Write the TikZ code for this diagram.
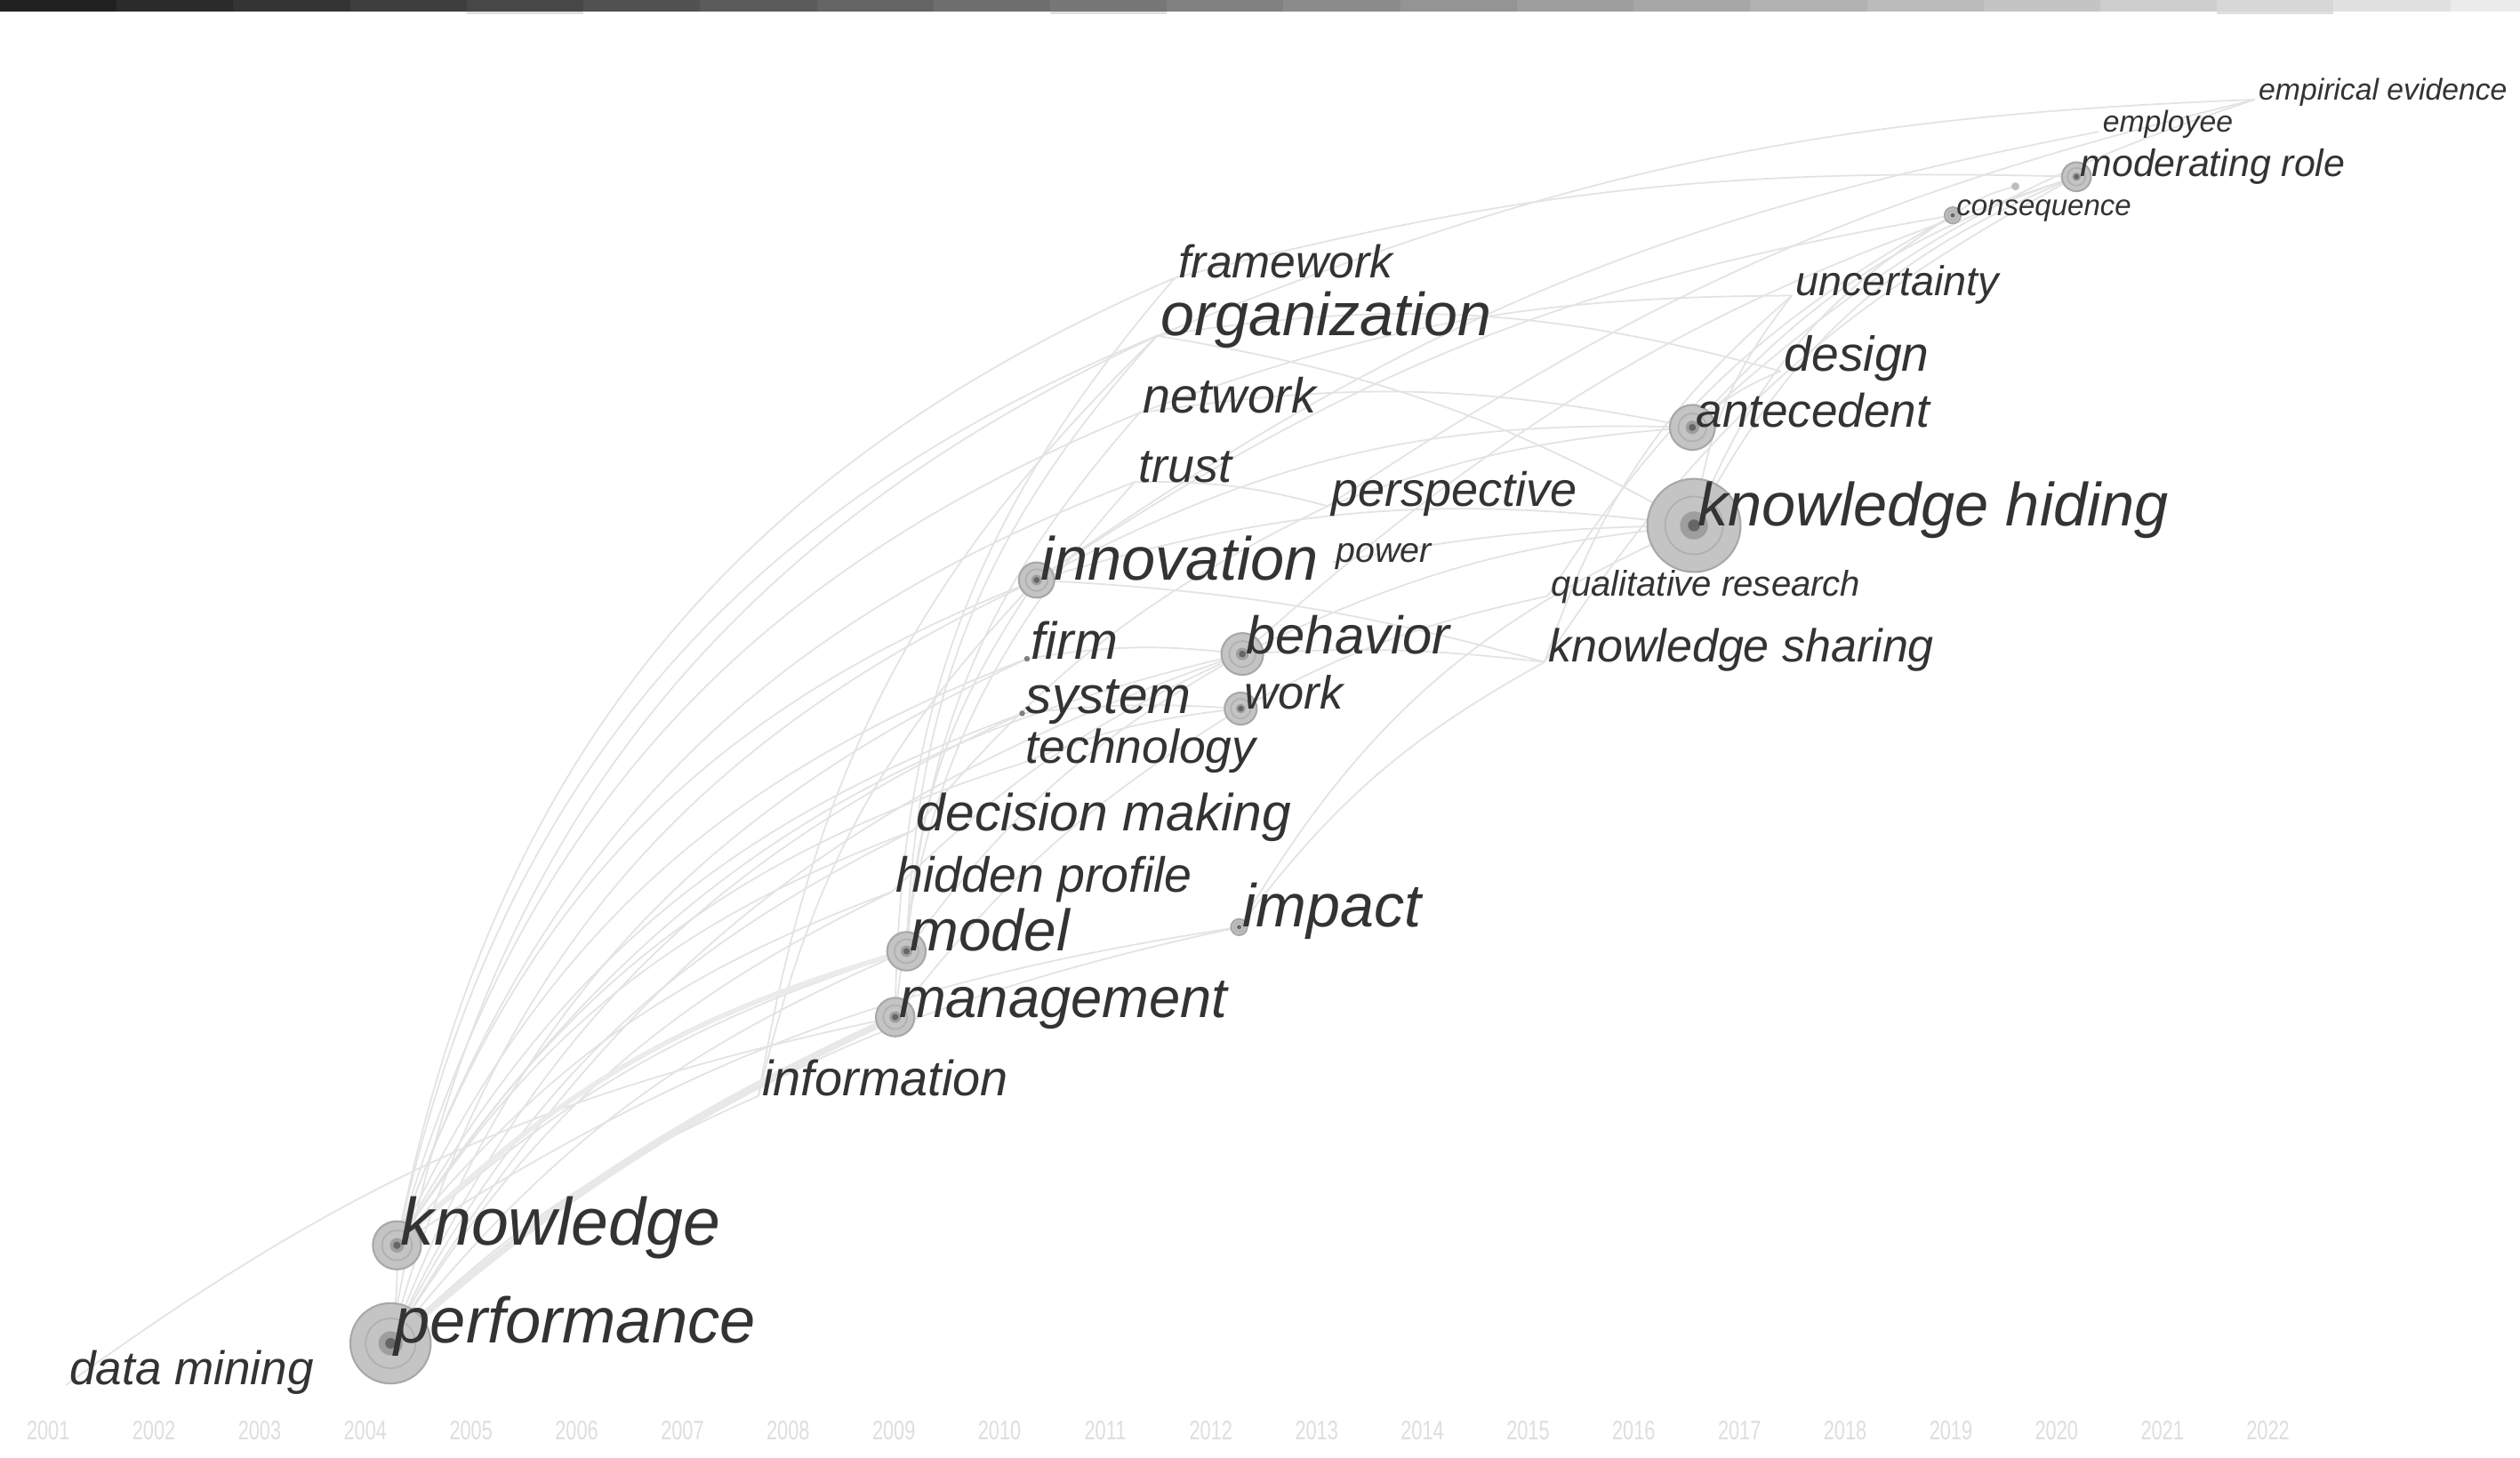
\documentclass[tikz,border=0pt]{standalone}
\usepackage{fontspec}
\setmainfont{Liberation Sans}
\usepackage{tikz}
\usetikzlibrary{backgrounds}
\definecolor{termgray}{HTML}{333333}
\definecolor{linkgray}{HTML}{E3E3E3}
\tikzstyle{term}=[anchor=base west, inner sep=0pt, text=termgray]
\tikzstyle{yearlbl}=[inner sep=0pt, text=black!13, font=\fontsize{8.6}{8.6}\selectfont, xscale=.72]
\tikzstyle{link}=[draw=linkgray, line width=.5pt]
\newcommand{\ringnode}[2]{%
    \fill [black!23] (#1) circle [radius=#2];
    \draw [black!34, line width=.6pt] (#1) circle [radius=#2];
    \draw [black!31, line width=.5pt] (#1) circle [radius=0.62*#2];
    \fill [black!38] (#1) circle [radius=0.3*#2];
    \fill [black!60] (#1) circle [radius=0.1*#2+0.8];
}

\begin{document}
\begin{tikzpicture}[x=0.18074mm, y=-0.18074mm]
    \useasboundingbox (0,0) rectangle (1568,907);

    % time bar
    \foreach \i in {0,...,21}{
    \pgfmathsetmacro\shade{87-3.76*\i}
    \fill [black!\shade] (\i*72.6,0) rectangle ++(72.6,7);
    }
    \foreach \i in {4,9,19} {\fill [black!12] (\i*72.6,7) rectangle ++(72.6,2);}

    % years
    \foreach \yr [count=\i from 0] in {2001,...,2022}{
    \node [yearlbl] (y\yr) at (30+65.77*\i,890) {\yr};
    }

    % terms
    \foreach \n/\x/\y/\s/\t in {
    emp/1403/62/9.6/empirical evidence,
    empl/1306/82/9.6/employee,
    mod/1292/110/12.2/moderating role,
    cons/1215/134/9.4/consequence,
    unc/1115/184/13.3/uncertainty,
    frame/731/173/14.7/framework,
    org/720/209/19.4/organization,
    design/1108/231/15.7/design,
    ante/1053/266/15.1/antecedent,
    net/709/257/15.8/network,
    trust/706/300/15.3/trust,
    persp/826/315/15.4/perspective,
    hiding/1054/327/19.5/knowledge hiding,
    power/829/350/11.2/power,
    inno/645/361/19.5/innovation,
    qual/963/371/11.4/qualitative research,
    behav/773/407/17.0/behavior,
    kshare/961/412/14.8/knowledge sharing,
    firm/639/410/16.7/firm,
    system/636/444/16.7/system,
    work/772/441/14.9/work,
    tech/636/475/15.2/technology,
    dec/568/517/16.7/decision making,
    hidden/555/555/15.8/hidden profile,
    impact/771/577/19.4/impact,
    model/564/592/18.7/model,
    mgmt/557/633/18.0/management,
    info/472/682/15.9/information,
    know/247/775/21.4/knowledge,
    perf/243/836/20.6/performance,
    dm/41/862/15.1/data mining}{
    \coordinate (\n) at (\x,\y);
    \node [term, font=\fontsize{\s}{\s}\selectfont\itshape] (\n-t) at (\x+2,\y) {\t};
    }
    \coordinate (lone) at (1254,116);

    \begin{scope}[on background layer]
    \fill [white] (0,0) rectangle (1568,907);

    % links
    \foreach \a/\b/\c in {know/frame/28, know/org/28, know/inno/25, know/net/26, know/trust/25,
        know/firm/22, know/system/20, know/tech/20, know/dec/18, know/hidden/15, know/model/12,
        know/behav/22, know/impact/12, know/perf/5,
        perf/org/28, perf/inno/25, perf/firm/22, perf/system/20, perf/dec/18, perf/hidden/16,
        perf/model/14, perf/info/10, perf/impact/14, perf/behav/20, dm/mgmt/12,
        info/inno/15, info/org/18, model/org/20, model/net/18, model/inno/15, model/behav/12,
        mgmt/frame/20, mgmt/trust/18, mgmt/work/10, hidden/behav/10, dec/persp/12, tech/work/8,
        inno/hiding/12, inno/ante/15, inno/kshare/6, org/hiding/10, net/ante/10, trust/persp/8,
        firm/behav/8, system/work/5, behav/hiding/10, behav/kshare/5, work/qual/8, power/hiding/5,
        persp/ante/8, impact/hiding/18, impact/kshare/12, org/design/12,
        hiding/unc/15, hiding/mod/20, hiding/cons/18, ante/design/10, ante/mod/15, kshare/mod/14,
        qual/cons/14, behav/mod/12, inno/empl/12, org/emp/10, persp/emp/10, frame/mod/8,
        inno/cons/12, net/unc/10, kshare/unc/15, ante/emp/12, cons/lone/10} {
    \draw [link] (\a) to [bend left=\c] (\b);
    }
    \draw [link, line width=2.2pt, draw=black!9] (perf) to [bend left=8] (mgmt);
    \draw [link, line width=1.6pt, draw=black!8] (know) to [bend left=14] (model);

    % rings
    \foreach \n/\r in {hiding/29, perf/25, know/15, ante/14, behav/13, model/12, mgmt/12,
        inno/11, work/10, mod/9, cons/5, impact/5} {
    \ringnode{\n}{\r}
    }
    \fill [black!25] (lone) circle [radius=2.5];
    \foreach \n in {firm, system} {\fill [black!50] (\n) circle [radius=1.8];}
    \end{scope}

\end{tikzpicture}
\end{document}
